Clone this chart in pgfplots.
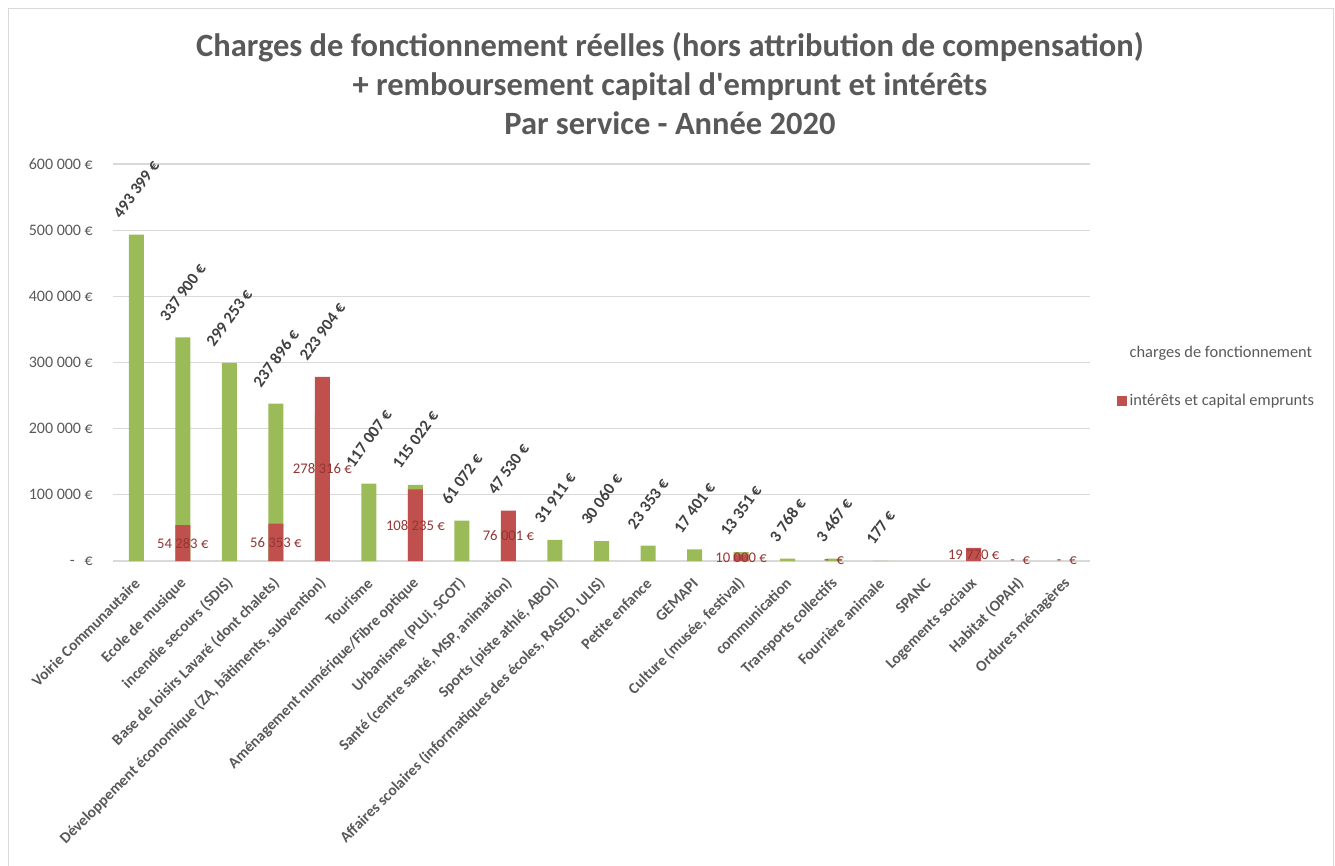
\documentclass[border=0pt]{standalone}
\usepackage{pgfplots}
\pgfplotsset{compat=1.18}
\usepackage{pgfplotstable}
\usepackage{fontspec}
\setmainfont{Carlito}[Ligatures=TeXOff]
\definecolor{cgreen}{HTML}{9BBB59}
\definecolor{cred}{HTML}{C0504D}
\definecolor{txtgray}{HTML}{595959}
\definecolor{lblblack}{HTML}{404040}
\definecolor{lblred}{HTML}{943634}
\definecolor{gridgray}{HTML}{D9D9D9}
\pgfkeys{/pgf/number format/.cd,fixed,precision=0,1000 sep={\ },assume math mode=true}

\pgfplotstableread{
x g r
0 493399 nan
1 337900 54283
2 299253 nan
3 237896 56353
4 223904 278316
5 117007 nan
6 115022 108235
7 61072 nan
8 47530 76001
9 31911 nan
10 30060 nan
11 23353 nan
12 17401 nan
13 13351 10000
14 3768 nan
15 3467 nan
16 177 nan
17 nan nan
18 nan 19770
19 nan nan
20 nan nan
}\datatable

\begin{document}
\begin{tikzpicture}[x=1pt,y=1pt]
\useasboundingbox (0,0) rectangle (1335,865);
\draw[gridgray, line width=1.5pt] (8.5,-20) -- (8.5,856.5) -- (1333.5,856.5) -- (1333.5,-20);
\node[font=\fontsize{32.5}{39}\selectfont\bfseries, text=txtgray, align=center] at (670,781)
 {Charges de fonctionnement réelles (hors attribution de compensation)\\+ remboursement capital d'emprunt et intérêts\\Par service - Année 2020};
\begin{axis}[
  at={(113pt,304pt)}, anchor=south west, scale only axis,
  width=977pt, height=397pt,
  xmin=-0.5, xmax=20.5, ymin=0, ymax=600000,
  axis lines=left,
  axis line style={-},
  y axis line style={draw=none},
  x axis line style={gridgray, line width=1.5pt},
  major tick length=0pt,
  ymajorgrids, grid style={gridgray, line width=1.3pt},
  scaled y ticks=false,
  ytick={0,100000,200000,300000,400000,500000,600000},
  yticklabels={{-\hspace{10pt}€},{100 000 €},{200 000 €},{300 000 €},{400 000 €},{500 000 €},{600 000 €}},
  yticklabel style={font=\fontsize{16}{19}\selectfont, text=txtgray, inner sep=0pt, xshift=-20pt},
  xtick={0,...,20},
  xticklabels={{Voirie Communautaire},{Ecole de musique},{incendie secours (SDIS)},{Base de loisirs Lavaré (dont chalets)},{Développement économique (ZA, bâtiments, subvention)},{Tourisme},{Aménagement numérique/Fibre optique},{Urbanisme (PLUi, SCOT)},{Santé (centre santé, MSP, animation)},{Sports (piste athlé, ABOI)},{Affaires scolaires (informatiques des écoles, RASED, ULIS)},{Petite enfance},{GEMAPI},{Culture (musée, festival)},{communication},{Transports collectifs},{Fourrière animale},{SPANC},{Logements sociaux},{Habitat (OPAH)},{Ordures ménagères}},
  xticklabel style={font=\fontsize{15.5}{19}\selectfont\bfseries, text=txtgray, inner sep=0pt, xshift=1pt, yshift=-20pt, rotate=45, anchor=east},
  legend style={at={(1.0276,0.4647)}, anchor=west, draw=none, fill=none, inner sep=0pt,
    font=\fontsize{16.4}{19}\selectfont, text=txtgray, row sep=31pt,
    nodes={inner sep=2.5pt}},
  legend cell align=left,
  clip=false,
]
\addplot[ybar, bar width=15pt, fill=cgreen, draw=none, legend image code/.code={}]
  table[x=x, y=g]{\datatable};
\addlegendentry{charges de fonctionnement}
\addplot[ybar, bar width=15pt, fill=cred, draw=none,
  legend image code/.code={\fill[cred] (0pt,-5pt) rectangle (10pt,5pt);}]
  table[x=x, y=r]{\datatable};
\addlegendentry{intérêts et capital emprunts}
% green data labels (above the taller bar)
\addplot[forget plot, draw=none, mark=none, point meta=\thisrow{g},
  nodes near coords={\rotatebox{54}{\pgfmathprintnumber{\pgfplotspointmeta}~€}},
  nodes near coords style={anchor=south, inner sep=0pt, yshift=15pt,
    font=\fontsize{16.5}{19}\selectfont\bfseries, text=lblblack}]
  table[x=x, y expr={0*\thisrow{g} + (\thisrow{r}>\thisrow{g} ? \thisrow{r} : \thisrow{g})}]{\datatable};
% red data labels (centred in the bar)
\addplot[forget plot, draw=none, mark=none, point meta=\thisrow{r},
  nodes near coords={\pgfmathprintnumber{\pgfplotspointmeta}~€},
  nodes near coords style={anchor=center, inner sep=0pt,
    font=\fontsize{14.7}{17}\selectfont, text=lblred}]
  table[x=x, y expr={\thisrow{r}/2}]{\datatable};
% zero-valued red entries
\addplot[forget plot, draw=none, mark=none,
  nodes near coords={-\hspace{8pt}€},
  nodes near coords style={anchor=center, inner sep=0pt,
    font=\fontsize{14.7}{17}\selectfont, text=lblred}]
  coordinates {(15,0) (19,0) (20,0)};
\end{axis}
\end{tikzpicture}
\end{document}
